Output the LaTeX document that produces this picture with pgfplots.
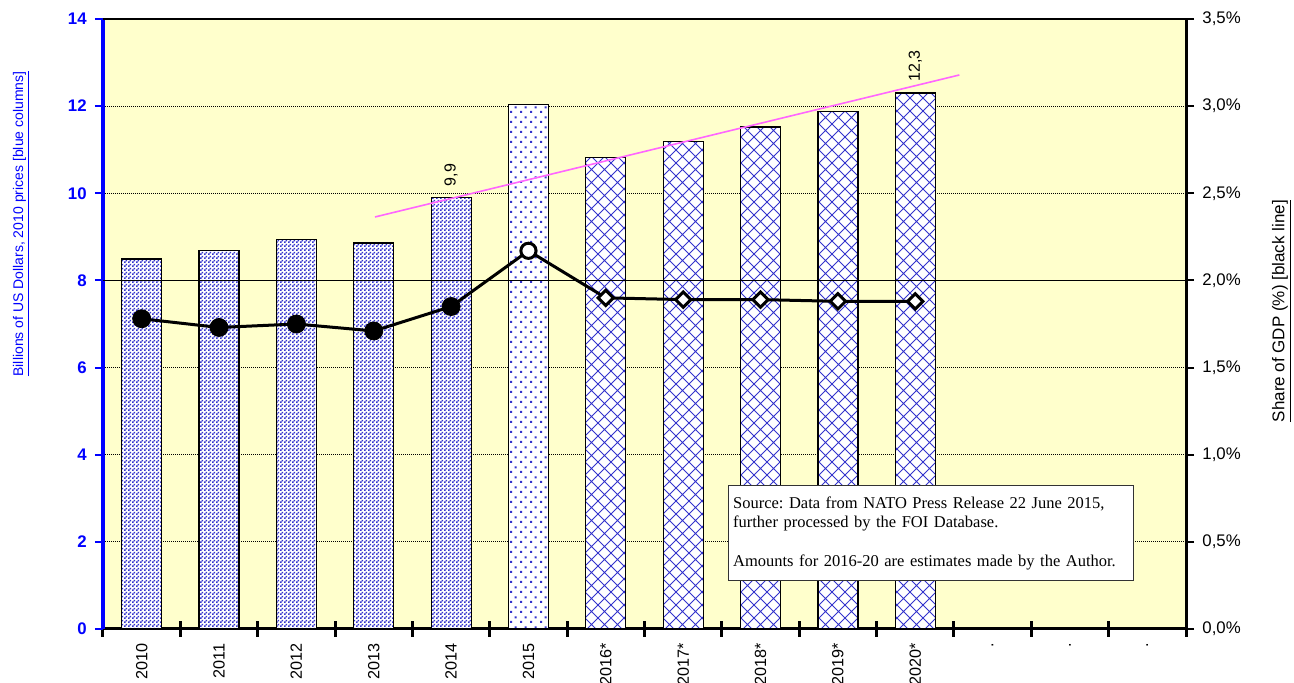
\documentclass[border=0pt]{standalone}
\usepackage{fontspec}
\setmainfont{Liberation Sans}
\newfontfamily\boxfont{Liberation Serif}
\usepackage{pgfplots}
\pgfplotsset{compat=1.18}
\usetikzlibrary{patterns}
\frenchspacing

\definecolor{bg}{RGB}{255,255,204}
\definecolor{patblue}{RGB}{51,51,204}
\definecolor{trend}{RGB}{255,102,255}

\pgfdeclarepatternformonly{densechk}{\pgfqpoint{0pt}{0pt}}{\pgfqpoint{2pt}{2pt}}{\pgfqpoint{2pt}{2pt}}{%
  \pgfpathrectangle{\pgfqpoint{0pt}{0pt}}{\pgfqpoint{1pt}{1pt}}%
  \pgfpathrectangle{\pgfqpoint{1pt}{1pt}}{\pgfqpoint{1pt}{1pt}}%
  \pgfusepath{fill}}
\pgfdeclarepatternformonly{sparsedots}{\pgfqpoint{0pt}{0pt}}{\pgfqpoint{5pt}{5pt}}{\pgfqpoint{5pt}{5pt}}{%
  \pgfpathrectangle{\pgfqpoint{0pt}{0pt}}{\pgfqpoint{1.1pt}{1.1pt}}%
  \pgfpathrectangle{\pgfqpoint{2.5pt}{2.5pt}}{\pgfqpoint{1.1pt}{1.1pt}}%
  \pgfusepath{fill}}
\pgfdeclarepatternformonly{diagcross}{\pgfqpoint{-0.5pt}{-0.5pt}}{\pgfqpoint{7pt}{7pt}}{\pgfqpoint{6.5pt}{6.5pt}}{%
  \pgfsetlinewidth{0.45pt}%
  \pgfpathmoveto{\pgfqpoint{0pt}{0pt}}\pgfpathlineto{\pgfqpoint{6.5pt}{6.5pt}}%
  \pgfpathmoveto{\pgfqpoint{0pt}{6.5pt}}\pgfpathlineto{\pgfqpoint{6.5pt}{0pt}}%
  \pgfusepath{stroke}}

\begin{document}
\begin{tikzpicture}
\begin{axis}[
  name=ax,
  width=541.5pt, height=305pt, scale only axis,
  xmin=-0.5, xmax=13.5, ymin=0, ymax=14,
  axis y line*=left, axis x line*=bottom,
  axis background/.style={fill=bg},
  ytick={0,2,4,6,8,10,12,14},
  yticklabels={0,2,4,6,8,10,12,14},
  yticklabel style={font=\fontsize{8.4}{10}\selectfont\bfseries, text=blue, inner sep=0pt},
  yticklabel shift=4pt,
  y axis line style={blue, line width=2pt},
  ytick style={blue, line width=1pt},
  x axis line style={black, line width=1.5pt},
  ytick align=outside, xtick align=center,
  major tick length=4pt, minor tick length=8pt,
  xtick={0,1,...,13},
  xticklabels={2010,2011,2012,2013,2014,2015,2016*,2017*,2018*,2019*,2020*,.,.,.},
  xticklabel style={rotate=90, anchor=east, inner sep=0pt, font=\fontsize{8.1}{10}\selectfont},
  xticklabel shift=5pt,
  every major x tick/.append style={draw=none},
  minor xtick={-0.5,0.5,...,13.5},
  every minor x tick/.append style={black, line width=1.5pt},
  ymajorgrids,
  grid style={black, line width=0.4pt, dash pattern=on 0.5pt off 0.5pt},
  ylabel={\underline{Billions of US Dollars, 2010 prices [blue columns]}},
  ylabel style={font=\fontsize{7}{8}\selectfont, text=blue, at={(axis description cs:-0.0753,0.664)}, anchor=center},
]
\addplot[ybar, bar width=20pt, draw=black, line width=0.6pt, fill=white,
  postaction={pattern=densechk, pattern color=patblue}]
  coordinates {(0,8.49) (1,8.68) (2,8.93) (3,8.86) (4,9.9)};
\addplot[ybar, bar width=20pt, draw=black, line width=0.6pt, fill=white,
  postaction={pattern=sparsedots, pattern color=patblue}]
  coordinates {(5,12.03)};
\addplot[ybar, bar width=20pt, draw=black, line width=0.6pt, fill=white,
  postaction={pattern=diagcross, pattern color=patblue}]
  coordinates {(6,10.83) (7,11.18) (8,11.52) (9,11.87) (10,12.3)};
\addplot[black, line width=0.75pt] coordinates {(-0.5,8) (13.5,8)};
\addplot[trend, line width=0.8pt] coordinates {(3.016,9.456) (10.57,12.715)};
\node[rotate=90, anchor=west, inner sep=0pt, font=\fontsize{8}{10}\selectfont] at (axis cs:4,10.15) {9,9};
\node[rotate=90, anchor=west, inner sep=0pt, font=\fontsize{8}{10}\selectfont] at (axis cs:10,12.55) {12,3};
\node[draw=black!80, line width=0.6pt, fill=white, anchor=north west,
  minimum width=202.5pt, minimum height=47.5pt, text width=198pt,
  inner xsep=2.25pt, align=left, font=\boxfont\fontsize{8.25}{9.65}\selectfont]
  at (axis cs:7.58,3.305)
  {Source: Data from NATO Press Release 22 June 2015,\\ further processed by the FOI Database.\\[9.65pt] Amounts for 2016-20 are estimates made by the Author.};
\end{axis}
\begin{axis}[
  width=541.5pt, height=305pt, scale only axis,
  xmin=-0.5, xmax=13.5, ymin=0, ymax=3.5,
  axis y line*=right, axis x line*=top,
  xtick=\empty,
  x axis line style={black, line width=0.6pt},
  y axis line style={black, line width=1.5pt},
  ytick={0,0.5,1,1.5,2,2.5,3,3.5},
  yticklabels={{0,0\%},{0,5\%},{1,0\%},{1,5\%},{2,0\%},{2,5\%},{3,0\%},{3,5\%}},
  ytick align=outside, major tick length=4pt,
  ytick style={black, line width=1pt},
  yticklabel style={font=\fontsize{8.4}{10}\selectfont, inner sep=0pt},
  yticklabel shift=4pt,
  ylabel={\underline{Share of GDP (\%) [black line]}},
  ylabel style={font=\fontsize{8.5}{10}\selectfont, at={(axis description cs:1.0886,0.521)}, anchor=center},
  clip=false,
]
\addplot[black, line width=1.5pt] coordinates {(0,1.78) (1,1.73) (2,1.75) (3,1.71) (4,1.85) (5,2.17) (6,1.90) (7,1.89) (8,1.89) (9,1.88) (10,1.88)};
\addplot[only marks, mark=*, mark size=4.5pt, black] coordinates {(0,1.78) (1,1.73) (2,1.75) (3,1.71) (4,1.85)};
\addplot[only marks, mark=*, mark size=3.8pt, mark options={fill=white, draw=black, line width=1.5pt}] coordinates {(5,2.17)};
\addplot[only marks, mark=square*, mark size=2.7pt, mark options={rotate=45, fill=white, draw=black, line width=1.5pt}] coordinates {(6,1.90) (7,1.89) (8,1.89) (9,1.88) (10,1.88)};
\end{axis}
\pgfresetboundingbox
\path[use as bounding box] ([shift={(-51.5pt,-27pt)}]ax.south west) rectangle ([shift={(54pt,9.5pt)}]ax.north east);
\end{tikzpicture}
\end{document}
